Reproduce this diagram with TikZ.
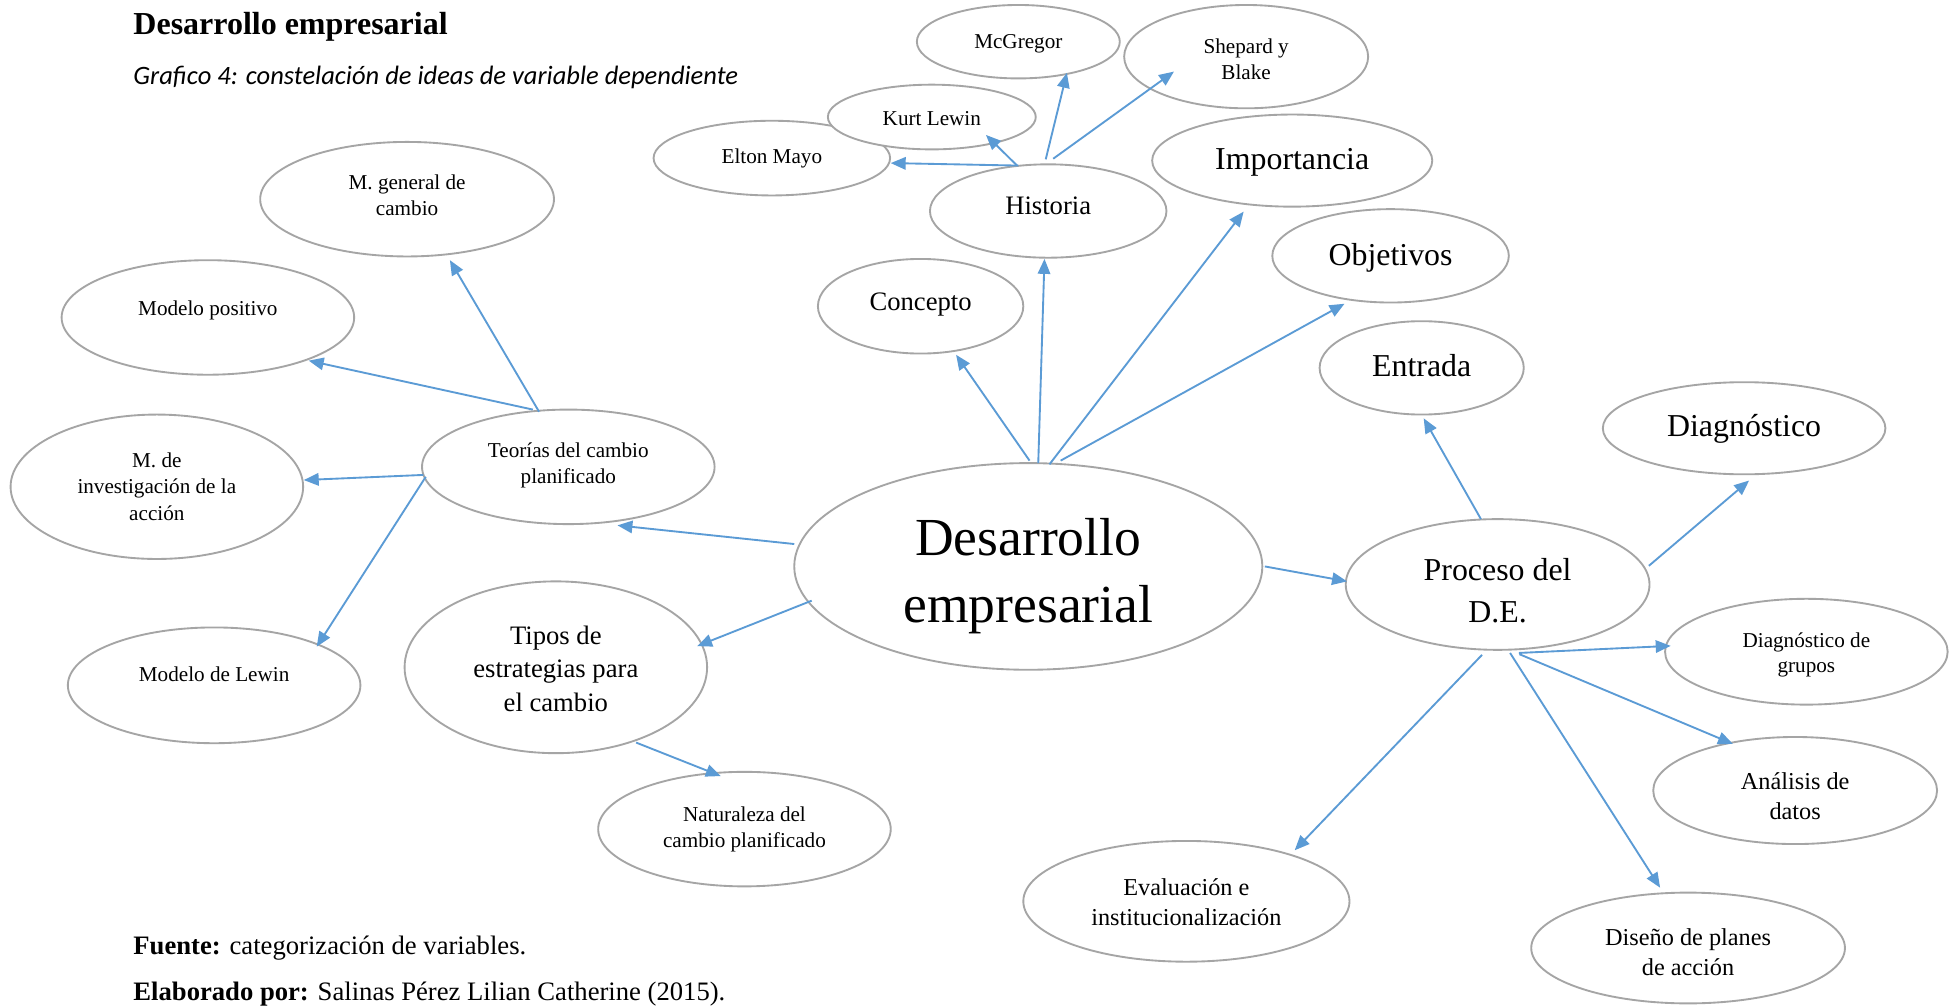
\documentclass[tikz,border=0pt]{standalone}
\usepackage{fontspec}
\setmainfont{Liberation Serif}
\newfontfamily\capfont{Carlito}
\usetikzlibrary{shapes.geometric,arrows.meta}

\definecolor{ringgray}{HTML}{A5A5A5}
\definecolor{linkblue}{HTML}{5B9BD5}

\tikzset{
  bubble/.style 2 args={ellipse, draw=ringgray, line width=1.5pt, fill=white,
    minimum width=#1pt, minimum height=#2pt, inner sep=0pt},
  link/.style={draw=linkblue, line width=1.5pt, -{Triangle[length=12pt,width=10pt]}},
  txt/.style={align=center, inner sep=0pt,
    execute at begin node=\strut, execute at end node=\strut},
  tA/.style={txt, font=\fontsize{17}{21}\selectfont},
  tB/.style={txt, font=\fontsize{19.5}{24}\selectfont},
  tC/.style={txt, font=\fontsize{21.4}{27}\selectfont},
  tD/.style={txt, font=\fontsize{25.6}{34}\selectfont},
  tE/.style={txt, font=\fontsize{43}{54}\selectfont},
  note/.style={anchor=base west, inner sep=0pt},
}

\begin{document}
\begin{tikzpicture}[x=1pt, y=-1pt]
  \fill[white] (0,0) rectangle (1568,809);
  \useasboundingbox (0,0) rectangle (1568,809);

  % heading
  \node[note, font=\fontsize{25.7}{30}\selectfont\bfseries] (title) at (107,28) {Desarrollo empresarial};
  \node[note, font=\capfont\itshape\fontsize{21.3}{26}\selectfont] (subtitle) at (107,68)
    {Grafico 4: constelación de ideas de variable dependiente};

  % bubbles
  \node[bubble={376}{166}] (main)   at (826,455)   {};
  \node[bubble={190}{75}]  (hist)   at (842,169.5) {};
  \node[bubble={190}{60}]  (elton)  at (620,127)   {};
  \node[bubble={167}{52}]  (kurt)   at (748.5,94)  {};
  \node[bubble={163}{59}]  (mcg)    at (818,33.5)  {};
  \node[bubble={196}{83}]  (shep)   at (1001,45.5) {};
  \node[bubble={225}{74}]  (imp)    at (1038,129)  {};
  \node[bubble={190}{75}]  (obj)    at (1117,205.5){};
  \node[bubble={165}{76}]  (conc)   at (739.5,246) {};
  \node[bubble={164}{75}]  (entr)   at (1142,295.5){};
  \node[bubble={227}{74}]  (diag)   at (1401,344)  {};
  \node[bubble={244}{105}] (proc)   at (1203,469.5){};
  \node[bubble={227}{85}]  (diaggr) at (1451,523.5){};
  \node[bubble={228}{86}]  (anal)   at (1442,635)  {};
  \node[bubble={252}{89}]  (dis)    at (1356,761.5){};
  \node[bubble={262}{97}]  (eval)   at (953,724)   {};
  \node[bubble={243}{138}] (tipos)  at (446.5,536) {};
  \node[bubble={235}{92}]  (natur)  at (598,666)   {};
  \node[bubble={235}{92}]  (teor)   at (456.5,375) {};
  \node[bubble={236}{92}]  (mgen)   at (327,160)   {};
  \node[bubble={235}{92}]  (modpos) at (167,255)   {};
  \node[bubble={235}{116}] (minv)   at (126,391)   {};
  \node[bubble={235}{93}]  (lewin)  at (172,550.5) {};

  % bubble texts
  \node[tE] (main-t)   at ([yshift=-11pt]main.center) {Desarrollo\\empresarial};
  \node[tC] (hist-t)   at ([yshift=3pt]hist.center)   {Historia};
  \node[tA] (elton-t)  at (elton.center)              {Elton Mayo};
  \node[tA] (kurt-t)   at ([yshift=-3pt]kurt.center)  {Kurt Lewin};
  \node[tA] (mcg-t)    at ([yshift=-1pt]mcg.center)   {McGregor};
  \node[tA] (shep-t)   at ([yshift=-5pt]shep.center)  {Shepard y\\Blake};
  \node[tD] (imp-t)    at (imp.center)                {Importancia};
  \node[tD] (obj-t)    at ([yshift=-1pt]obj.center)   {Objetivos};
  \node[tC] (conc-t)   at ([yshift=2pt]conc.center)   {Concepto};
  \node[tD] (entr-t)   at (entr.center)               {Entrada};
  \node[tD] (diag-t)   at (diag.center)               {Diagnóstico};
  \node[tD] (proc-t)   at ([yshift=-10pt]proc.center) {Proceso del\\D.E.};
  \node[tA, font=\fontsize{17}{20}\selectfont] (diaggr-t) at ([yshift=-4pt]diaggr.center) {Diagnóstico de\\grupos};
  \node[tB] (anal-t)   at ([yshift=-8pt]anal.center)  {Análisis de\\datos};
  \node[tB] (dis-t)    at ([yshift=-7pt]dis.center)   {Diseño de planes\\de acción};
  \node[tB] (eval-t)   at ([yshift=-4pt]eval.center)  {Evaluación e\\institucionalización};
  \node[tC] (tipos-t)  at ([yshift=-5pt]tipos.center) {Tipos de\\estrategias para\\el cambio};
  \node[tA] (natur-t)  at ([yshift=-1.5pt]natur.center){Naturaleza del\\cambio planificado};
  \node[tA] (teor-t)   at ([yshift=-0.5pt]teor.center){Teorías del cambio\\planificado};
  \node[tA] (mgen-t)   at (mgen.center)               {M. general de\\cambio};
  \node[tA] (modpos-t) at ([yshift=6pt]modpos.center) {Modelo positivo};
  \node[tA] (minv-t)   at ([yshift=-3pt]minv.center)  {M. de\\investigación de la\\acción};
  \node[tA] (lewin-t)  at ([yshift=7pt]lewin.center)  {Modelo de Lewin};

  % links from the central idea
  \draw[link] ([shift={(1,-85)}]main.center)    -- ([shift={(28.5,39)}]conc.center);
  \draw[link] ([shift={(8,-83)}]main.center)    -- ([shift={(-3,38.5)}]hist.center);
  \draw[link] ([shift={(17,-82)}]main.center)   -- ([shift={(-39,41)}]imp.center);
  \draw[link] ([shift={(26,-85)}]main.center)   -- ([shift={(-37,38.5)}]obj.center);
  \draw[link] ([shift={(-188,-18)}]main.center) -- ([shift={(39.5,47)}]teor.center);
  \draw[link] ([shift={(-174,27.5)}]main.center)-- ([shift={(113.5,-17)}]tipos.center);
  \draw[link] ([shift={(190,0)}]main.center)    -- ([shift={(-121,-2.5)}]proc.center);

  % history
  \draw[link] ([shift={(-24,-36.5)}]hist.center) -- ([shift={(95.5,4)}]elton.center);
  \draw[link] ([shift={(-25,-36.5)}]hist.center) -- ([shift={(43.5,14.4)}]kurt.center);
  \draw[link] ([shift={(-2,-41.5)}]hist.center)  -- ([shift={(39,25)}]mcg.center);
  \draw[link] ([shift={(4,-42)}]hist.center)     -- ([shift={(-58,12)}]shep.center);

  % theories of planned change
  \draw[link] ([shift={(-23.5,-44.3)}]teor.center) -- ([shift={(34.4,49)}]mgen.center);
  \draw[link] ([shift={(-28.5,-46)}]teor.center)   -- ([shift={(81,34.7)}]modpos.center);
  \draw[link] ([shift={(-116.5,6.5)}]teor.center)  -- ([shift={(118,-5.4)}]minv.center);
  \draw[link] ([shift={(-114.5,8)}]teor.center)    -- ([shift={(82.4,-31)}]lewin.center);

  % strategies
  \draw[link] ([shift={(64.5,60.5)}]tipos.center) -- ([shift={(-19,-42.6)}]natur.center);

  % process
  \draw[link] ([shift={(-13.4,-52.5)}]proc.center) -- ([shift={(1.6,40.5)}]entr.center);
  \draw[link] ([shift={(121.5,-15)}]proc.center)   -- ([shift={(4,42)}]diag.center);
  \draw[link] ([shift={(17,55)}]proc.center)       -- ([shift={(-109,-4.7)}]diaggr.center);
  \draw[link] ([shift={(17.5,56)}]proc.center)     -- ([shift={(-50,-37.4)}]anal.center);
  \draw[link] ([shift={(10,55)}]proc.center)       -- ([shift={(-22.5,-48.5)}]dis.center);
  \draw[link] ([shift={(-12.5,56.5)}]proc.center)  -- ([shift={(87,-41)}]eval.center);

  % source notes
  \node[note, font=\fontsize{21.4}{26}\selectfont] (src) at (107,766.5)
    {\textbf{Fuente:} categorización de variables.};
  \node[note, font=\fontsize{21.4}{26}\selectfont] (author) at (107,804)
    {\textbf{Elaborado por:} Salinas Pérez Lilian Catherine (2015).};
\end{tikzpicture}
\end{document}
